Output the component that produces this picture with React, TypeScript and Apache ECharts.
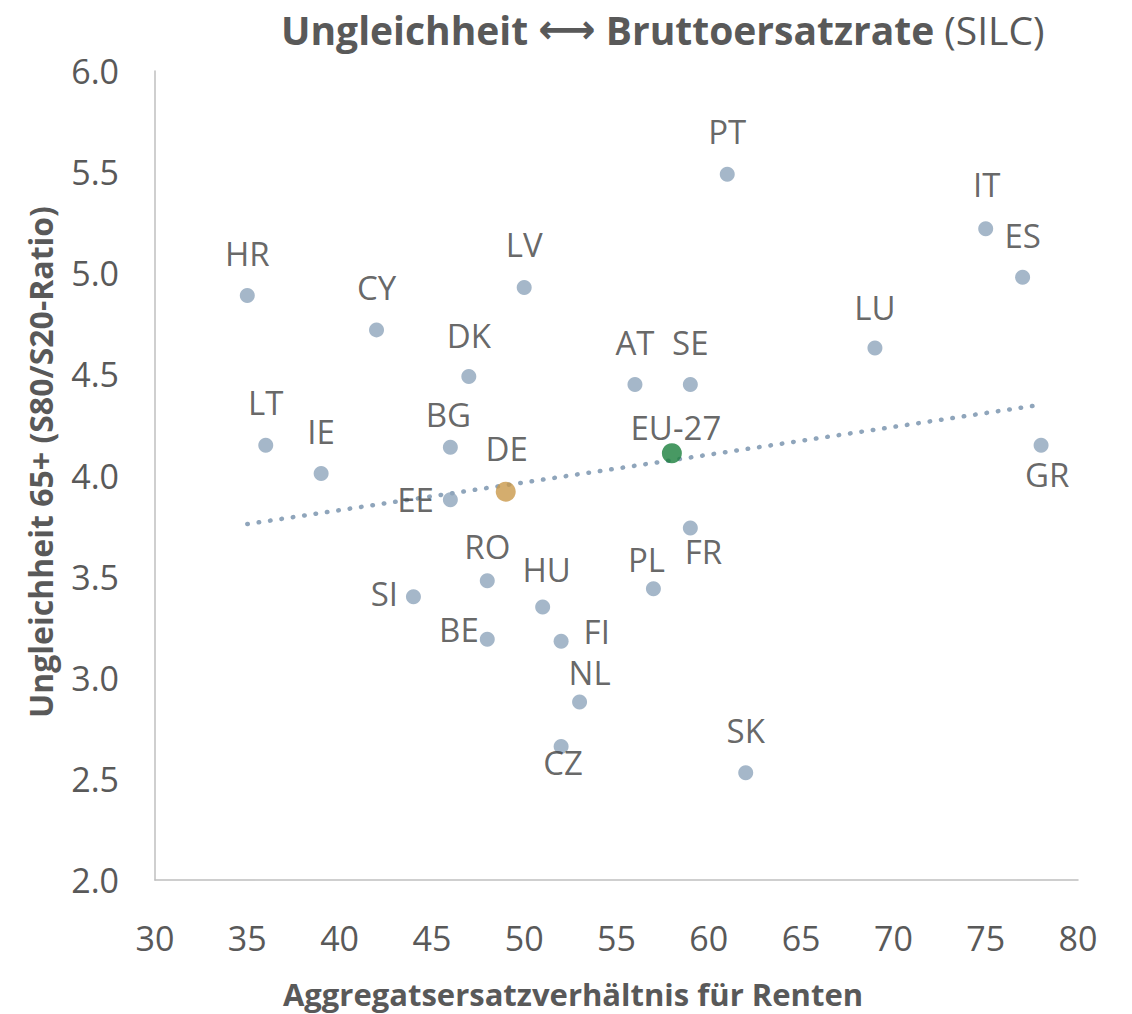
import React, { useEffect, useRef } from "react";
import * as echarts from "echarts";

const countries = ["HR","LT","IE","CY","SI","EE","BG","DK","RO","BE","LV","HU","FI","NL","CZ","AT","PL","SE","FR","PT","SK","LU","IT","ES","GR"];
const replacementRate = [35,36,39,42,44,46,46,47,48,48,50,51,52,53,52,56,57,59,59,61,62,69,75,77,78];
const inequality = [4.89,4.15,4.01,4.72,3.40,3.88,4.14,4.49,3.48,3.19,4.93,3.35,3.18,2.88,2.66,4.45,3.44,4.45,3.74,5.49,2.53,4.63,5.22,4.98,4.15];
const labelPos = ["top","top","top","top","left","left","top","top","top","left","top","top","right","top","bottom","top","top","top","bottom","top","top","top","top","top","bottom"];
const labelDx = [0,0,0,0,-2,-3,-2,0,0,5,0,4,9,10,2,0,-7,0,13,0,0,0,1,0,6];
const labelDy = [-12,-13,-12,-12,-3,0,-3,-11,-4,-10,-13,-7,-10,0,-14,-12,1,-12,-7,-13,-12,-11,-14,-12,-1];

const highlightNames = ["DE", "EU-27"];
const highlightX = [49, 58];
const highlightY = [3.92, 4.11];
const highlightColors = ["#C9984A", "#1A7F3C"];
const highlightDx = [1, 4];
const highlightDy = [-13, 5];

const trendX = [35, 78];
const trendY = [3.76, 4.35];

const FONT = "'Open Sans', sans-serif";
const POINT_COLOR = "#8FA5BB";
const LABEL_COLOR = "#404040";
const AXIS_COLOR = "#595959";

export default function App() {
  const ref = useRef<HTMLDivElement>(null);
  useEffect(() => {
    if (!ref.current) return;
    const chart = echarts.init(ref.current, undefined, { renderer: "svg" });
    const mainData = countries.map((c, i) => ({
      name: c,
      value: [replacementRate[i], inequality[i]],
      label: { position: labelPos[i], offset: [labelDx[i], labelDy[i]] },
    }));
    const hlData = highlightNames.map((n, i) => ({
      name: n,
      value: [highlightX[i], highlightY[i]],
      itemStyle: { color: highlightColors[i] },
      label: { offset: [highlightDx[i], highlightDy[i]] },
    }));
    chart.setOption({
      animation: false,
      backgroundColor: "#ffffff",
      textStyle: { fontFamily: FONT },
      title: {
        text: "{b|Ungleichheit }{a|⟷}{b| Bruttoersatzrate }{r|(SILC)}",
        left: 276,
        top: 4,
        textStyle: {
          rich: {
            b: { fontSize: 39, fontWeight: "bold", color: AXIS_COLOR, fontFamily: FONT },
            a: { fontSize: 40, fontWeight: "bold", color: AXIS_COLOR, fontFamily: "'DejaVu Sans', sans-serif" },
            r: { fontSize: 39, fontWeight: "normal", color: AXIS_COLOR, fontFamily: FONT },
          },
        },
      },
      grid: { left: 155, right: 54, top: 71, bottom: 134 },
      graphic: [
        {
          type: "text",
          x: 573,
          y: 994,
          style: {
            text: "Aggregatsersatzverhältnis für Renten",
            fontSize: 31,
            fontWeight: "bold",
            fontFamily: FONT,
            fill: AXIS_COLOR,
            align: "center",
            verticalAlign: "middle",
          },
        },
        {
          type: "text",
          x: 40,
          y: 462,
          rotation: Math.PI / 2,
          style: {
            text: "Ungleichheit 65+ (S80/S20-Ratio)",
            fontSize: 32,
            fontWeight: "bold",
            fontFamily: FONT,
            fill: AXIS_COLOR,
            align: "center",
            verticalAlign: "middle",
          },
        },
      ],
      xAxis: {
        type: "value",
        min: 30,
        max: 80,
        interval: 5,
        axisLine: { show: true, lineStyle: { color: "#BFBFBF", width: 1.5 } },
        axisTick: { show: false },
        splitLine: { show: false },
        axisLabel: { fontSize: 34, color: AXIS_COLOR, margin: 41, fontFamily: FONT },
      },
      yAxis: {
        type: "value",
        min: 2,
        max: 6,
        interval: 0.5,
        axisLine: { show: true, lineStyle: { color: "#BFBFBF", width: 1.5 } },
        axisTick: { show: false },
        splitLine: { show: false },
        axisLabel: {
          fontSize: 34,
          color: AXIS_COLOR,
          margin: 36,
          fontFamily: FONT,
          formatter: (v: number) => v.toFixed(1),
        },
      },
      series: [
        {
          type: "line",
          data: trendX.map((x, i) => [x, trendY[i]]),
          symbol: "none",
          lineStyle: { color: POINT_COLOR, width: 4.5, type: [0.5, 11], cap: "round" },
          z: 1,
          silent: true,
        },
        {
          type: "scatter",
          data: mainData,
          symbolSize: 15,
          itemStyle: { color: POINT_COLOR },
          label: {
            show: true,
            formatter: (p: any) => p.name,
            fontSize: 33,
            color: LABEL_COLOR,
            fontFamily: FONT,
            distance: 6,
          },
          z: 2,
        },
        {
          type: "scatter",
          data: hlData,
          symbolSize: 20,
          label: {
            show: true,
            position: "top",
            formatter: (p: any) => p.name,
            fontSize: 33,
            color: LABEL_COLOR,
            fontFamily: FONT,
            distance: 4,
          },
          z: 3,
        },
      ],
    });
    return () => chart.dispose();
  }, []);
  return <div ref={ref} style={{ width: 1132, height: 1014, position: "absolute", left: 0, top: 0 }} />;
}
